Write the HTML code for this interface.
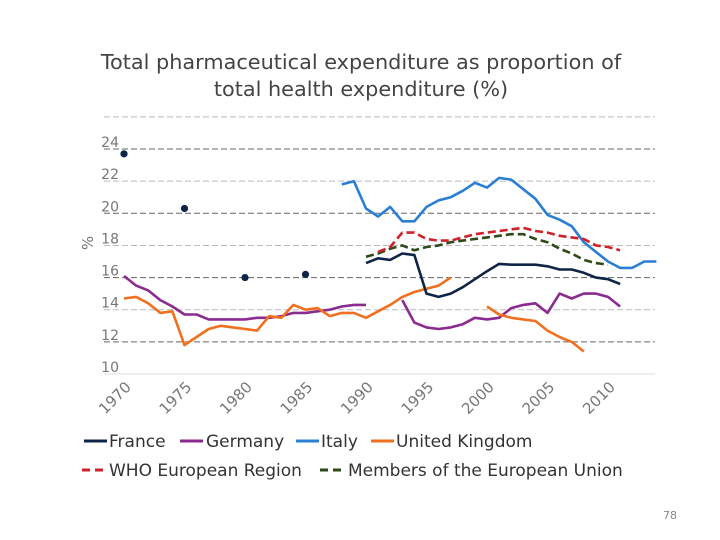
<!DOCTYPE html>
<html><head><meta charset="utf-8"><style>
body{margin:0;background:#fff;}
svg{display:block;font-family:"DejaVu Sans","Liberation Sans",sans-serif;}
</style></head><body>
<svg id="c" width="720" height="540">
<text x="361" y="69" text-anchor="middle" font-size="20.8" fill="#444">Total pharmaceutical expenditure as proportion of</text>
<text x="361" y="96" text-anchor="middle" font-size="20.8" fill="#444">total health expenditure (%)</text>
<text x="93" y="243" font-size="15" fill="#777" transform="rotate(-90 93 243)" text-anchor="middle">%</text>
<text x="670" y="519" text-anchor="middle" font-size="11" fill="#888">78</text>
<g id="grid"></g><g id="series"></g><g id="legend"></g>
</svg>
<script>
const years=[];for(let y=1970;y<=2014;y++)years.push(y);
const yTicks=[10,12,14,16,18,20,22,24];
const xTicks=[1970,1975,1980,1985,1990,1995,2000,2005,2010];
const franceDotYears=[1970,1975,1980,1985];
const franceDots=[23.7,20.3,16.0,16.2];
const franceYears=[1990,1991,1992,1993,1994,1995,1996,1997,1998,1999,2000,2001,2002,2003,2004,2005,2006,2007,2008,2009,2010,2011];
const france=[16.9,17.2,17.1,17.5,17.4,15.0,14.8,15.0,15.4,15.9,16.4,16.85,16.8,16.8,16.8,16.7,16.5,16.5,16.3,16.0,15.9,15.6];
const italyYears=[1988,1989,1990,1991,1992,1993,1994,1995,1996,1997,1998,1999,2000,2001,2002,2003,2004,2005,2006,2007,2008,2009,2010,2011,2012,2013,2014];
const italy=[21.8,22.0,20.3,19.8,20.4,19.5,19.5,20.4,20.8,21.0,21.4,21.9,21.6,22.2,22.1,21.5,20.9,19.9,19.6,19.2,18.2,17.6,17.0,16.6,16.6,17.0,17.0];
const whoYears=[1991,1992,1993,1994,1995,1996,1997,1998,1999,2000,2001,2002,2003,2004,2005,2006,2007,2008,2009,2010,2011];
const who=[17.6,17.9,18.8,18.8,18.4,18.3,18.3,18.5,18.7,18.8,18.9,19.0,19.1,18.9,18.8,18.6,18.5,18.4,18.0,17.9,17.7];
const euYears=[1990,1991,1992,1993,1994,1995,1996,1997,1998,1999,2000,2001,2002,2003,2004,2005,2006,2007,2008,2009,2010];
const eu=[17.3,17.5,17.8,18.0,17.7,17.9,18.0,18.2,18.3,18.4,18.5,18.6,18.7,18.7,18.4,18.2,17.8,17.5,17.1,16.9,16.8];
const germanyYears=[1970,1971,1972,1973,1974,1975,1976,1977,1978,1979,1980,1981,1982,1983,1984,1985,1986,1987,1988,1989,1990,1991,1992,1993,1994,1995,1996,1997,1998,1999,2000,2001,2002,2003,2004,2005,2006,2007,2008,2009,2010,2011];
const germany=[16.1,15.5,15.2,14.6,14.2,13.7,13.7,13.4,13.4,13.4,13.4,13.5,13.5,13.6,13.8,13.8,13.9,14.0,14.2,14.3,14.3,null,null,14.6,13.2,12.9,12.8,12.9,13.1,13.5,13.4,13.5,14.1,14.3,14.4,13.8,15.0,14.7,15.0,15.0,14.8,14.2];
const ukYears=[1970,1971,1972,1973,1974,1975,1976,1977,1978,1979,1980,1981,1982,1983,1984,1985,1986,1987,1988,1989,1990,1991,1992,1993,1994,1995,1996,1997,1998,1999,2000,2001,2002,2003,2004,2005,2006,2007,2008];
const uk=[14.7,14.8,14.4,13.8,13.9,11.8,12.3,12.8,13.0,12.9,12.8,12.7,13.6,13.5,14.3,14.0,14.1,13.6,13.8,13.8,13.5,13.9,14.3,14.8,15.1,15.3,15.5,16.0,null,null,14.2,13.7,13.5,13.4,13.3,12.7,12.3,12.0,11.4];
const X=y=>124+(y-1970)*12.1;
const Y=v=>374-(v-10)*16.07;
const NS="http://www.w3.org/2000/svg";
function mk(tag,parent,attrs){const e=document.createElementNS(NS,tag);for(const k in attrs)e.setAttribute(k,attrs[k]);parent.appendChild(e);return e;}
const grid=document.getElementById('grid');
[26].concat(yTicks.slice(1)).forEach(v=>{
  const l=mk('line',grid,{x1:104,x2:655,y1:Y(v),y2:Y(v),stroke:(v%4==0?'#666':'#bbb'),'stroke-width':1,'stroke-dasharray':'6,3'});
  
  
});
const base=mk('line',grid,{x1:104,x2:655,y1:Y(10),y2:Y(10),stroke:'#ddd','stroke-width':1});


yTicks.forEach(v=>{const t=mk('text',grid,{x:119,y:Y(v)-2,'text-anchor':'end','font-size':14,fill:'#777'});t.textContent=v;

});
xTicks.forEach(v=>{const x=X(v);const t=mk('text',grid,{x:x+8,y:388,'text-anchor':'end','font-size':15,fill:'#777',transform:`rotate(-45 ${x+8} 388)`});t.textContent=v;

});
const sg=document.getElementById('series');
function line(xs,vals,color,dash,name){
  let d='',pen=false;
  vals.forEach((v,i)=>{if(v==null){pen=false;return;}d+=(pen?'L':'M')+X(xs[i]).toFixed(1)+','+Y(v).toFixed(1);pen=true;});
  const p=mk('path',sg,{d:d,fill:'none',stroke:color,'stroke-width':2.6,'stroke-linejoin':'round'});
  if(dash)p.setAttribute('stroke-dasharray',dash);
  
  
}
line(germanyYears,germany,'#8b2a8f',null,'line-germany');
line(ukYears,uk,'#f07020',null,'line-uk');
line(italyYears,italy,'#2a7fd4',null,'line-italy');
line(euYears,eu,'#2d4a18','8,4','line-eu');
line(whoYears,who,'#d0202a','8,4','line-who-europe');
line(franceYears,france,'#0f2548',null,'line-france');
franceDots.forEach((v,i)=>{const c=mk('circle',sg,{cx:X(franceDotYears[i]),cy:Y(v),r:3.6,fill:'#0f2548'});

});
const lg=document.getElementById('legend');
const items=[['France','#0f2548',null,84,447,109],['Germany','#8b2a8f',null,180,447,206],['Italy','#2a7fd4',null,296,447,321],['United Kingdom','#f07020',null,371,447,396],['WHO European Region','#d0202a','8,5',82,476,109],['Members of the European Union','#2d4a18','8,5',320,476,348]];
items.forEach(it=>{
  const g=mk('g',lg,{});
  
  
  const l=mk('line',g,{x1:it[3],x2:it[3]+23,y1:it[4]-6,y2:it[4]-6,stroke:it[1],'stroke-width':3});
  if(it[2])l.setAttribute('stroke-dasharray',it[2]);
  const t=mk('text',g,{x:it[5],y:it[4],'font-size':17,fill:'#333'});t.textContent=it[0];
});
</script>
</body></html>
